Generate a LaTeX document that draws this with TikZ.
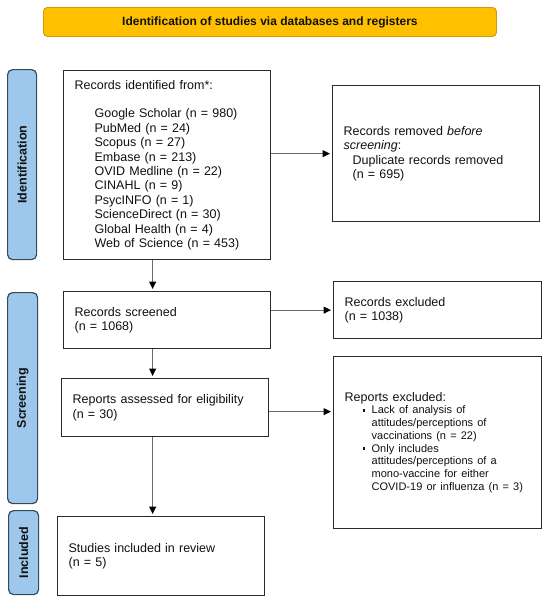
\documentclass[tikz,border=0pt]{standalone}
\usepackage{fontspec}
\setmainfont{Liberation Sans}
\usetikzlibrary{arrows.meta,calc}
\definecolor{titlefill}{HTML}{FFC000}
\definecolor{titleedge}{HTML}{D09C00}
\definecolor{sidefill}{HTML}{9DC8EB}
\definecolor{sideedge}{HTML}{34495E}
\definecolor{boxedge}{HTML}{2A2A2A}
\definecolor{arrline}{HTML}{6A6A6A}
\definecolor{txt}{HTML}{111111}
\begin{document}
\begin{tikzpicture}[x=1pt,y=-1pt,
  every node/.style={text=txt},
  flowbox/.style={draw=boxedge,line width=1.3pt,fill=white,inner xsep=11pt,inner ysep=0pt,
    align=left,anchor=north west,font=\fontsize{12.5}{14.4}\selectfont},
  sidebar/.style={draw=sideedge,line width=1.2pt,fill=sidefill,rounded corners=5pt,
    anchor=north west,inner sep=0pt},
  sidetext/.style={rotate=90,font=\bfseries\fontsize{12.5}{14}\selectfont,text=txt},
  arr/.style={draw=arrline,line width=1pt,shorten >=2pt,
    -{Triangle[length=7.5pt,width=7pt,color=black]}}
]
\useasboundingbox (0,0) rectangle (550,603);

% title
\node[draw=titleedge,line width=0.9pt,fill=titlefill,rounded corners=4pt,anchor=north west,
  minimum width=453pt,minimum height=29pt,inner sep=0pt] (title) at (43,7) {};
\node[font=\bfseries\fontsize{12}{14}\selectfont] (titletext) at (title.center) {Identification of studies via databases and registers};

% side bars
\node[sidebar,minimum width=29pt,minimum height=190pt] (sideid) at (7,69) {};
\node[sidetext] (sideidtext) at (sideid.center) {Identification};
\node[sidebar,minimum width=30pt,minimum height=211pt] (sidescr) at (7,292) {};
\node[sidetext] (sidescrtext) at (sidescr.center) {Screening};
\node[sidebar,minimum width=30pt,minimum height=84pt] (sideinc) at (8,510) {};
\node[sidetext] (sideinctext) at (sideinc.center) {Included};

% boxes
\node[flowbox,minimum width=207pt,minimum height=189pt,text width=185pt] (ident) at (63,70) {%
Records identified from*:\\[14.4pt]
\hspace*{20pt}Google Scholar (n = 980)\\
\hspace*{20pt}PubMed (n = 24)\\
\hspace*{20pt}Scopus (n = 27)\\
\hspace*{20pt}Embase (n = 213)\\
\hspace*{20pt}OVID Medline (n = 22)\\
\hspace*{20pt}CINAHL (n = 9)\\
\hspace*{20pt}PsycINFO (n = 1)\\
\hspace*{20pt}ScienceDirect (n = 30)\\
\hspace*{20pt}Global Health (n = 4)\\
\hspace*{20pt}Web of Science (n = 453)};

\node[flowbox,minimum width=207pt,minimum height=136pt,text width=185pt] (removed) at (332,85) {%
Records removed \textit{before}\\
\textit{screening}:\\
\hspace*{9pt}Duplicate records removed\\
\hspace*{9pt}(n = 695)};

\node[flowbox,minimum width=207pt,minimum height=57pt,text width=185pt] (screened) at (63,291) {%
Records screened\\
(n = 1068)};

\node[flowbox,minimum width=208pt,minimum height=57pt,text width=186pt] (excluded) at (333,281) {%
Records excluded\\
(n = 1038)};

\node[flowbox,minimum width=207pt,minimum height=58pt,text width=185pt] (assessed) at (61,378) {%
Reports assessed for eligibility\\
(n = 30)};

\node[flowbox,minimum width=208pt,minimum height=172pt,text width=186pt] (rexcl) at (333,356) {%
Reports excluded:\\[-0.6pt]
{\fontsize{11}{12.8}\selectfont
\hspace*{18pt}\makebox[9pt][l]{\raisebox{2.2pt}{\rule{2.8pt}{2.8pt}}}Lack of analysis of\\
\hspace*{27pt}attitudes/perceptions of\\
\hspace*{27pt}vaccinations (n = 22)\\
\hspace*{18pt}\makebox[9pt][l]{\raisebox{2.2pt}{\rule{2.8pt}{2.8pt}}}Only includes\\
\hspace*{27pt}attitudes/perceptions of a\\
\hspace*{27pt}mono-vaccine for either\\
\hspace*{27pt}COVID-19 or influenza (n = 3)\par}};

\node[flowbox,minimum width=207pt,minimum height=79pt,text width=185pt] (included) at (57,516) {%
Studies included in review\\
(n = 5)};

% connectors
\draw[arr] (ident.east |- removed.west) -- (removed.west);
\draw[arr] (screened.east |- excluded.west) -- (excluded.west);
\draw[arr] ([yshift=-4pt]assessed.east) -- ([yshift=-4pt]assessed.east -| rexcl.west);
\draw[arr] ([xshift=-14.5pt]ident.south) -- ([xshift=-14.5pt]ident.south |- screened.north);
\draw[arr] ([xshift=-14.5pt]screened.south) -- ([xshift=-14.5pt]screened.south |- assessed.north);
\draw[arr] ([xshift=-12.5pt]assessed.south) -- ([xshift=-12.5pt]assessed.south |- included.north);
\end{tikzpicture}
\end{document}
